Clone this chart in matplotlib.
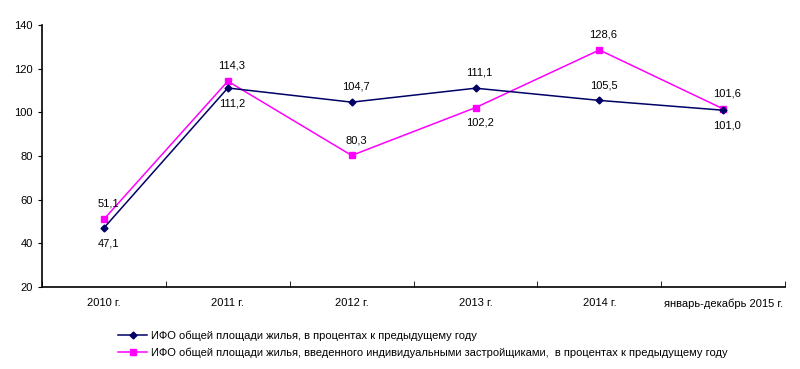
import matplotlib.pyplot as plt

plt.rcParams["font.family"] = ["Liberation Sans", "DejaVu Sans"]

categories = ["2010 г.", "2011 г.", "2012 г.", "2013 г.", "2014 г.", "январь-декабрь 2015 г."]
total_housing = [47.1, 111.2, 104.7, 111.1, 105.5, 101.0]
individual_housing = [51.1, 114.3, 80.3, 102.2, 128.6, 101.6]
total_labels = ["47,1", "111,2", "104,7", "111,1", "105,5", "101,0"]
individual_labels = ["51,1", "114,3", "80,3", "102,2", "128,6", "101,6"]
# label placement: 1 above the point, -1 below
total_side = [-1, -1, 1, 1, 1, -1]
individual_side = [1, 1, 1, -1, 1, 1]

total_name = "ИФО общей площади жилья, в процентах к предыдущему году"
individual_name = ("ИФО общей площади жилья, введенного индивидуальными застройщиками,  "
                   "в процентах к предыдущему году")

fig = plt.figure(figsize=(8, 3.69), dpi=100)
ax = fig.add_axes([0.0525, 0.222, 0.929, 0.71])

x = list(range(len(categories)))
ax.plot(x, total_housing, color="#000066", linewidth=1.1, marker="D", markersize=3.5,
        label=total_name, zorder=3)
ax.plot(x, individual_housing, color="#ff00ff", linewidth=1.1, marker="s", markersize=5,
        label=individual_name, zorder=2)

for xi, v, t, s in zip(x, total_housing, total_labels, total_side):
    ax.annotate(t, (xi, v), xytext=(3, 11 * s), textcoords="offset points",
                ha="center", va="center", fontsize=8)
for xi, v, t, s in zip(x, individual_housing, individual_labels, individual_side):
    ax.annotate(t, (xi, v), xytext=(3, 11 * s), textcoords="offset points",
                ha="center", va="center", fontsize=8)

ax.set_xlim(-0.5, len(categories) - 0.5)
ax.set_ylim(20, 140)
ax.set_yticks(range(20, 141, 20))
ax.set_xticks(x)
ax.set_xticklabels(categories, fontsize=8)
ax.set_xticks([i - 0.5 for i in range(len(categories) + 1)], minor=True)
ax.tick_params(axis="x", which="major", length=0, pad=8)
ax.tick_params(axis="x", which="minor", length=4, direction="in")
ax.tick_params(axis="y", labelsize=8, length=3, direction="out")
ax.spines["top"].set_visible(False)
ax.spines["right"].set_visible(False)
for sp in ("left", "bottom"):
    ax.spines[sp].set_linewidth(1.2)

fig.legend(loc="upper left", bbox_to_anchor=(0.148, 0.104), frameon=False,
           fontsize=8, handlelength=2.6, handletextpad=0.3, labelspacing=0.6,
           borderaxespad=0, borderpad=0)

fig.savefig("out.png", dpi=100)
